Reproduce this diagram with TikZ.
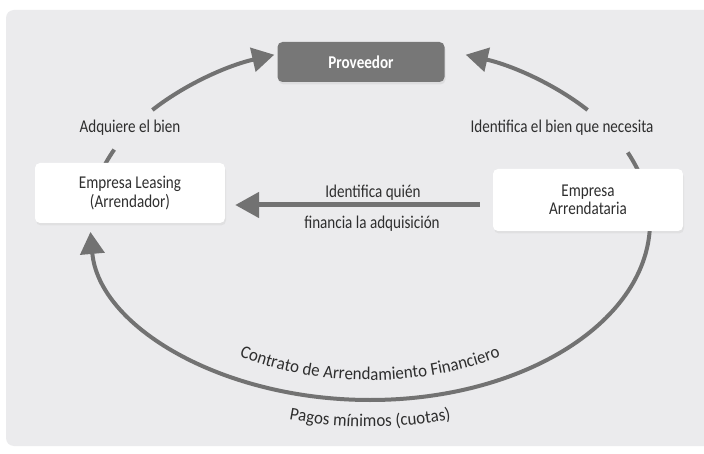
\documentclass[tikz,border=0pt]{standalone}
\usepackage{fontspec}
\setmainfont{Carlito}[FakeStretch=0.84]
\newfontfamily\curvefont{Carlito}[FakeStretch=0.94]
\usetikzlibrary{arrows.meta,shadows,decorations.text,calc}
\definecolor{panel}{HTML}{EBEBED}
\definecolor{ringc}{HTML}{727272}
\definecolor{provc}{HTML}{777777}
\definecolor{txt}{HTML}{2E2E2E}
\begin{document}
\begin{tikzpicture}[x=1pt,y=1pt,
  lbl/.style={text=txt, font=\fontsize{18}{19}\selectfont, inner sep=0pt},
  whitebox/.style={fill=white, rounded corners=5pt, minimum width=190pt, minimum height=60pt,
     align=center, text=txt, font=\fontsize{18}{18.5}\selectfont,
     drop shadow={opacity=0.10, shadow xshift=1pt, shadow yshift=-2.5pt}},
  provbox/.style={fill=provc, rounded corners=5pt, minimum width=167pt, minimum height=40pt,
     text=white, font=\fontsize{18}{19}\selectfont\bfseries,
     drop shadow={opacity=0.12, shadow xshift=1pt, shadow yshift=-2.5pt}},
  ring/.style={draw=ringc, line width=4pt},
  ringarrow/.style={ring, -{Triangle[length=22pt,width=24pt]}},
  midarrow/.style={draw=ringc, line width=5pt, -{Triangle[length=24pt,width=25pt]}},
  curvetext/.style={decorate, decoration={text along path, text align=center,
     text={|\curvefont\fontsize{18}{19}\selectfont\color{txt}|#1}}}
]
\useasboundingbox (0,0) rectangle (704,453);
\fill[white] (0,0) rectangle (704,453);
\fill[panel, rounded corners=8pt] (6,7) rectangle (716,443);
\coordinate (O) at (370,231);
% ring arcs
\draw[ringarrow] (O) ++(141:280 and 178) arc[start angle=141, end angle=110, x radius=280, y radius=178];
\draw[ring] (O) ++(165:280 and 178) arc[start angle=165, end angle=156, x radius=280, y radius=178];
\draw[ringarrow] (O) ++(39:280 and 178) arc[start angle=39, end angle=70, x radius=280, y radius=178];
\draw[ring] (O) ++(12:280 and 178) arc[start angle=12, end angle=23, x radius=280, y radius=178];
\draw[ringarrow] (O) ++(0:280 and 178) arc[start angle=0, end angle=-176.8, x radius=280, y radius=178];
% boxes
\node[provbox] (prov) at (361,391) {Proveedor};
\node[whitebox] (lea) at (130,260) {Empresa Leasing\\(Arrendador)};
\node[whitebox, minimum height=62pt] (arr) at (588,253) {Empresa\\Arrendataria};
% middle arrow
\draw[midarrow] ([shift={(-13pt,-5pt)}]arr.west) -- ([shift={(10pt,-12pt)}]lea.east);
% labels
\node[lbl] (adq) at (130,325) {Adquiere el bien};
\node[lbl] (ide) at (562,325) {Identifica el bien que necesita};
\node[lbl] (iq) at (373,260) {Identifica quién};
\node[lbl] (fin) at (372,229) {financia la adquisición};
% curved labels
\path[curvetext={Contrato de Arrendamiento Financiero}] (O) ++(200:250 and 158) arc[start angle=200, end angle=340, x radius=250, y radius=158];
\path[curvetext={Pagos mínimos (cuotas)}] (O) ++(235:300 and 205) arc[start angle=235, end angle=305, x radius=300, y radius=205];
\end{tikzpicture}
\end{document}
